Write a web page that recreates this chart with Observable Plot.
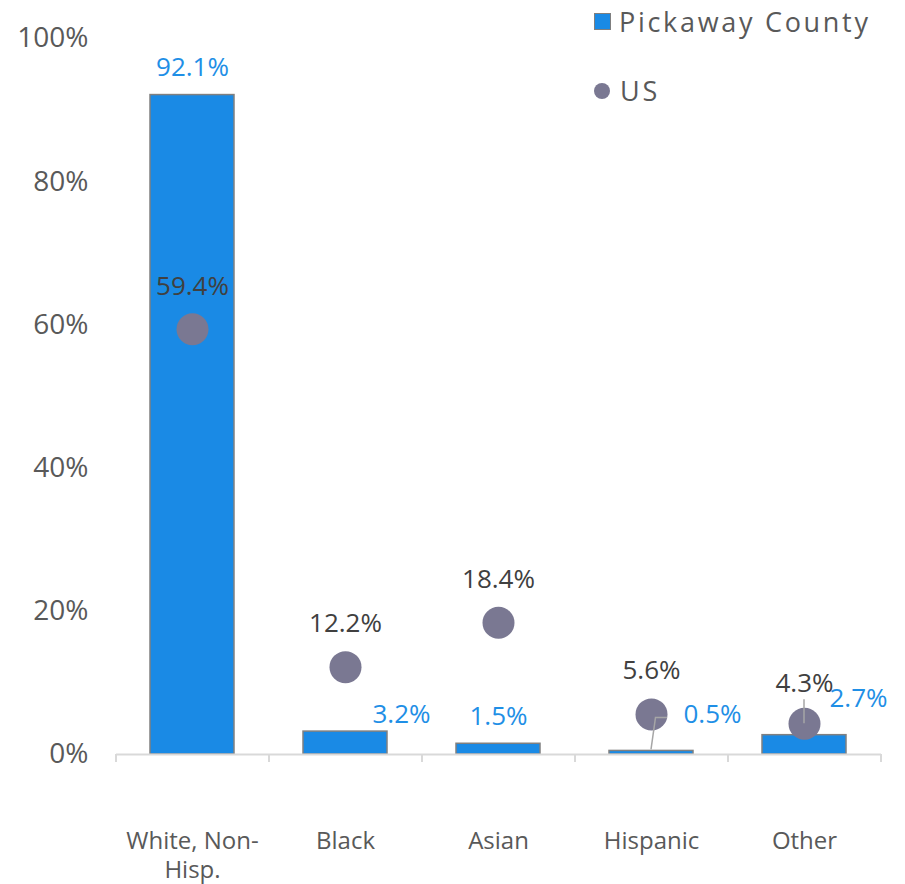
<!DOCTYPE html>
<html>
<head>
<meta charset="utf-8">
<script src="https://cdn.jsdelivr.net/npm/d3@7"></script>
<script src="https://cdn.jsdelivr.net/npm/@observablehq/plot@0.6"></script>
<style>
  html, body { margin: 0; padding: 0; background: #ffffff; }
  #wrap { position: relative; width: 905px; height: 884px; font-family: "Open Sans", sans-serif; }
  #legend { position: absolute; left: 0; top: 0; width: 905px; height: 120px; pointer-events: none; }
  .lg-item { position: absolute; left: 594px; display: flex; align-items: center; font-size: 27px; letter-spacing: 2.7px; color: #595959; line-height: 1; }
  .lg-swatch { width: 17px; height: 17px; background: #1a8ae5; border: 1px solid #7f7f7f; box-sizing: border-box; margin-right: 8px; }
  .lg-dot { width: 16px; height: 16px; border-radius: 50%; background: #7a7892; margin-right: 10px; }
  svg { display: block; }
</style>
</head>
<body>
<div id="wrap">
  <div id="chart"></div>
  <div id="legend"></div>
</div>
<script>
// ---- data ----
const categories = ["White, Non-Hisp.", "Black", "Asian", "Hispanic", "Other"];
const categoryLabels = ["White, Non-\nHisp.", "Black", "Asian", "Hispanic", "Other"];
const countyValues = [92.1, 3.2, 1.5, 0.5, 2.7];
const usValues = [59.4, 12.2, 18.4, 5.6, 4.3];
const seriesNames = ["Pickaway County", "US"];
const yTicks = [0, 20, 40, 60, 80, 100];

// ---- styling / layout ----
const BAR_FILL = "#1a8ae5";
const BAR_STROKE = "#808080";
const DOT_FILL = "#7a7892";
const BLUE_TEXT = "#1f8fe6";
const DARK_TEXT = "#404040";
const AXIS_TEXT = "#595959";
const AXIS_LINE = "#d9d9d9";

const W = 905, H = 884;
const M = {top: 38, right: 24, bottom: 130, left: 116};
const step = (W - M.left - M.right) / categories.length;

const countyLabelOffset = {
  "White, Non-Hisp.": [0, -27],
  "Black": [56, -17],
  "Asian": [0, -27],
  "Hispanic": [61, -36],
  "Other": [54, -36]
};
const usLabelOffset = {
  "White, Non-Hisp.": [0, -43],
  "Black": [0, -43],
  "Asian": [0, -43],
  "Hispanic": [0, -44],
  "Other": [0, -40]
};

const rows = categories.map((c, i) => ({category: c, county: countyValues[i], us: usValues[i]}));
const fmt = v => v.toFixed(1) + "%";

const countyLabelMarks = categories.map(c => Plot.text(rows.filter(r => r.category === c), {
  x: "category", y: "county", text: r => fmt(r.county),
  dx: countyLabelOffset[c][0], dy: countyLabelOffset[c][1],
  fill: BLUE_TEXT, fontSize: 26, letterSpacing: 1
}));
const usLabelMarks = categories.map(c => Plot.text(rows.filter(r => r.category === c), {
  x: "category", y: "us", text: r => fmt(r.us),
  dx: usLabelOffset[c][0], dy: usLabelOffset[c][1],
  fill: DARK_TEXT, fontSize: 26, letterSpacing: 1
}));

const chart = Plot.plot({
  width: W,
  height: H,
  marginTop: M.top,
  marginRight: M.right,
  marginBottom: M.bottom,
  marginLeft: M.left,
  style: {fontFamily: "'Open Sans', sans-serif", background: "#ffffff", overflow: "visible"},
  x: {type: "band", domain: categories, paddingInner: 0.45, paddingOuter: 0.225, align: 0.5, label: null},
  y: {domain: [0, 100], label: null},
  marks: [
    Plot.axisY({ticks: yTicks, tickSize: 0, tickPadding: 28, tickFormat: d => d + "%", fontSize: 28, fill: AXIS_TEXT, stroke: null, label: null}),
    Plot.axisX({tickSize: 0, tickPadding: 75, fontSize: 24, lineHeight: 1.17, fill: AXIS_TEXT, label: null,
      tickFormat: d => categoryLabels[categories.indexOf(d)]}),
    Plot.barY(rows, {x: "category", y: "county", fill: BAR_FILL, stroke: BAR_STROKE, strokeWidth: 1.5}),
    Plot.ruleY([0], {stroke: AXIS_LINE, strokeWidth: 2}),
    Plot.ruleX(categories, {x: d => d, y1: 0, y2: 0, insetBottom: -8, dx: -step / 2, stroke: AXIS_LINE, strokeWidth: 2}),
    Plot.ruleX(categories.slice(-1), {x: d => d, y1: 0, y2: 0, insetBottom: -8, dx: step / 2, stroke: AXIS_LINE, strokeWidth: 2}),
    Plot.dot(rows, {x: "category", y: "us", r: 16, fill: DOT_FILL, stroke: null}),
    ...countyLabelMarks,
    ...usLabelMarks
  ]
});

document.getElementById("chart").appendChild(chart);

// leader lines (positions from the chart's own scales)
const xs = chart.scale("x"), ys = chart.scale("y");
const cx = c => xs.apply(c) + xs.bandwidth / 2;
const svg = d3.select(chart);
const hi = rows.find(r => r.category === "Hispanic");
const hx = cx("Hispanic"), hy = ys.apply(hi.county);
svg.append("path")
  .attr("d", `M${hx},${hy - 1}L${hx + 4.5},${hy - 33}L${hx + 16},${hy - 33}`)
  .attr("fill", "none").attr("stroke", "#a6a6a6").attr("stroke-width", 1.5);
const ot = rows.find(r => r.category === "Other");
const ox = cx("Other"), oy = ys.apply(ot.us);
svg.append("path")
  .attr("d", `M${ox},${oy - 24}L${ox},${oy}`)
  .attr("fill", "none").attr("stroke", "#a6a6a6").attr("stroke-width", 1.5);

// legend
const lg = document.getElementById("legend");
seriesNames.forEach((name, i) => {
  const item = document.createElement("div");
  item.className = "lg-item";
  item.style.top = (i === 0 ? 8 : 77) + "px";
  const sw = document.createElement("span");
  sw.className = i === 0 ? "lg-swatch" : "lg-dot";
  const tx = document.createElement("span");
  tx.textContent = name;
  item.appendChild(sw);
  item.appendChild(tx);
  lg.appendChild(item);
});
</script>
</body>
</html>
